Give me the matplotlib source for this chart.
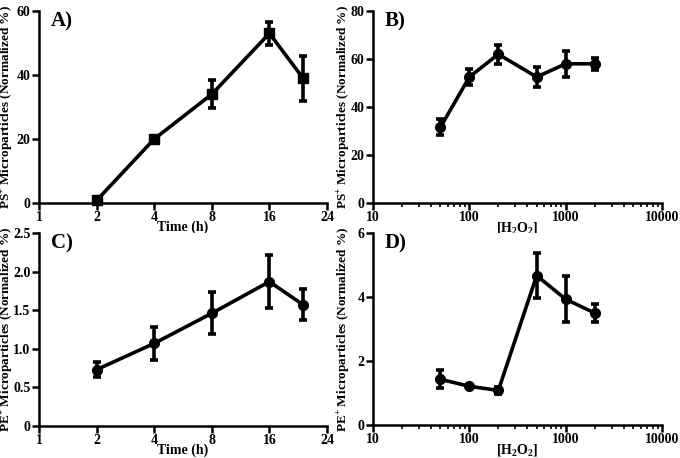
import numpy as np
import matplotlib
matplotlib.use("Agg")
import matplotlib.pyplot as plt
from matplotlib.ticker import FixedLocator, LogLocator, NullFormatter

plt.rcParams['font.family'] = 'Liberation Serif'
plt.rcParams['font.weight'] = 'bold'
plt.rcParams['mathtext.fontset'] = 'custom'
plt.rcParams['mathtext.rm'] = 'Liberation Serif:bold'
plt.rcParams['mathtext.it'] = 'Liberation Serif:bold'
plt.rcParams['mathtext.bf'] = 'Liberation Serif:bold'

# Datos
tiempo = [2, 4, 8, 16, 24]
h2o2 = [50, 100, 200, 500, 1000, 2000]

ps_tiempo = [0.8, 20, 34, 53, 39]
ps_tiempo_err = [0.5, 0, 4.4, 3.6, 7]

ps_h2o2 = [31.5, 52.5, 62, 52.5, 58, 58]
ps_h2o2_err = [3.3, 3.5, 4, 4, 5.3, 2.6]

pe_tiempo = [0.73, 1.07, 1.46, 1.87, 1.57]
pe_tiempo_err = [0.1, 0.21, 0.27, 0.34, 0.2]

pe_h2o2 = [1.43, 1.21, 1.08, 4.67, 3.93, 3.5]
pe_h2o2_err = [0.28, 0.03, 0.12, 0.7, 0.72, 0.28]

ticks_tiempo = [1, 2, 4, 8, 16, 32]
etiquetas_tiempo = ['1', '2', '4', '8', '16', '24']

fig = plt.figure(figsize=(6.8, 4.58), dpi=100)
W, H = 680, 458
TAM_ETIQ = 9.5
TAM_TICK = 10.0

def hacer_eje(x0, x1, y0, y1):
    return fig.add_axes([x0 / W, 1 - y1 / H, (x1 - x0) / W, (y1 - y0) / H])

def estilo(ax, xlab_px):
    ax.spines['top'].set_visible(False)
    ax.spines['right'].set_visible(False)
    ax.spines['left'].set_linewidth(1.8)
    ax.spines['bottom'].set_linewidth(1.8)
    ax.tick_params(axis='both', which='major', direction='out', length=5, width=1.8,
                   labelsize=TAM_TICK, pad=1)
    ax.tick_params(axis='both', which='minor', direction='out', length=3, width=1.2)
    for lab in ax.get_xticklabels() + ax.get_yticklabels():
        lab.set_fontweight('bold')
    # posicion fija de la etiqueta del eje y (en pixeles desde el eje)
    ancho = ax.get_position().width * W
    ax.yaxis.set_label_coords(xlab_px / ancho, 0.5)

def dibujar(ax, x, y, err, marker):
    ax.errorbar(x, y, yerr=err, color='black', lw=2.6, marker=marker, ms=7,
                elinewidth=2.6, capsize=3, capthick=2.6, clip_on=False)

# A)
axA = hacer_eje(39, 327, 11, 203)
dibujar(axA, tiempo, ps_tiempo, ps_tiempo_err, 's')
axA.set_xscale('log', base=2)
axA.set_xlim(1, 32)
axA.xaxis.set_major_locator(FixedLocator(ticks_tiempo))
axA.set_xticklabels(etiquetas_tiempo)
axA.xaxis.set_minor_formatter(NullFormatter())
axA.xaxis.set_minor_locator(FixedLocator([]))
axA.set_ylim(0, 60)
axA.set_yticks([0, 20, 40, 60])
axA.set_xlabel('Time (h)', fontsize=10, fontweight='bold', labelpad=-3)
axA.set_ylabel(r'PS$^{+}$ Microparticles (Normalized %)', fontsize=TAM_ETIQ, fontweight='bold')
axA.text(0.04, 1.0, 'A)', transform=axA.transAxes, fontsize=15, fontweight='bold', va='top')
estilo(axA, -24)

# B)
axB = hacer_eje(373, 662, 11, 203)
dibujar(axB, h2o2, ps_h2o2, ps_h2o2_err, 'o')
axB.set_xscale('log')
axB.set_xlim(10, 10000)
axB.set_xticks([10, 100, 1000, 10000])
axB.set_xticklabels(['10', '100', '1000', '10000'])
axB.xaxis.set_minor_locator(LogLocator(base=10, subs=np.arange(2, 10)))
axB.xaxis.set_minor_formatter(NullFormatter())
axB.set_ylim(0, 80)
axB.set_yticks([0, 20, 40, 60, 80])
axB.set_xlabel(r'[H$_2$O$_2$]', fontsize=10, fontweight='bold', labelpad=-3)
axB.set_ylabel(r'PS$^{+}$ Microparticles (Normalized %)', fontsize=TAM_ETIQ, fontweight='bold')
axB.text(0.04, 1.0, 'B)', transform=axB.transAxes, fontsize=15, fontweight='bold', va='top')
estilo(axB, -21)

# C)
axC = hacer_eje(39, 327, 233, 426)
dibujar(axC, tiempo, pe_tiempo, pe_tiempo_err, 'o')
axC.set_xscale('log', base=2)
axC.set_xlim(1, 32)
axC.xaxis.set_major_locator(FixedLocator(ticks_tiempo))
axC.set_xticklabels(etiquetas_tiempo)
axC.xaxis.set_minor_locator(FixedLocator([]))
axC.set_ylim(0, 2.5)
axC.set_yticks([0, 0.5, 1.0, 1.5, 2.0, 2.5])
axC.set_yticklabels(['0', '0.5', '1.0', '1.5', '2.0', '2.5'])
axC.set_xlabel('Time (h)', fontsize=10, fontweight='bold', labelpad=-3)
axC.set_ylabel(r'PE$^{+}$ Microparticles (Normalized %)', fontsize=TAM_ETIQ, fontweight='bold')
axC.text(0.04, 1.0, 'C)', transform=axC.transAxes, fontsize=15, fontweight='bold', va='top')
estilo(axC, -24)

# D)
axD = hacer_eje(373, 662, 233, 425)
dibujar(axD, h2o2, pe_h2o2, pe_h2o2_err, 'o')
axD.set_xscale('log')
axD.set_xlim(10, 10000)
axD.set_xticks([10, 100, 1000, 10000])
axD.set_xticklabels(['10', '100', '1000', '10000'])
axD.xaxis.set_minor_locator(LogLocator(base=10, subs=np.arange(2, 10)))
axD.xaxis.set_minor_formatter(NullFormatter())
axD.set_ylim(0, 6)
axD.set_yticks([0, 2, 4, 6])
axD.set_xlabel(r'[H$_2$O$_2$]', fontsize=10, fontweight='bold', labelpad=-3)
axD.set_ylabel(r'PE$^{+}$ Microparticles (Normalized %)', fontsize=TAM_ETIQ, fontweight='bold')
axD.text(0.04, 1.0, 'D)', transform=axD.transAxes, fontsize=15, fontweight='bold', va='top')
estilo(axD, -21)

fig.savefig('out.png', dpi=100)
